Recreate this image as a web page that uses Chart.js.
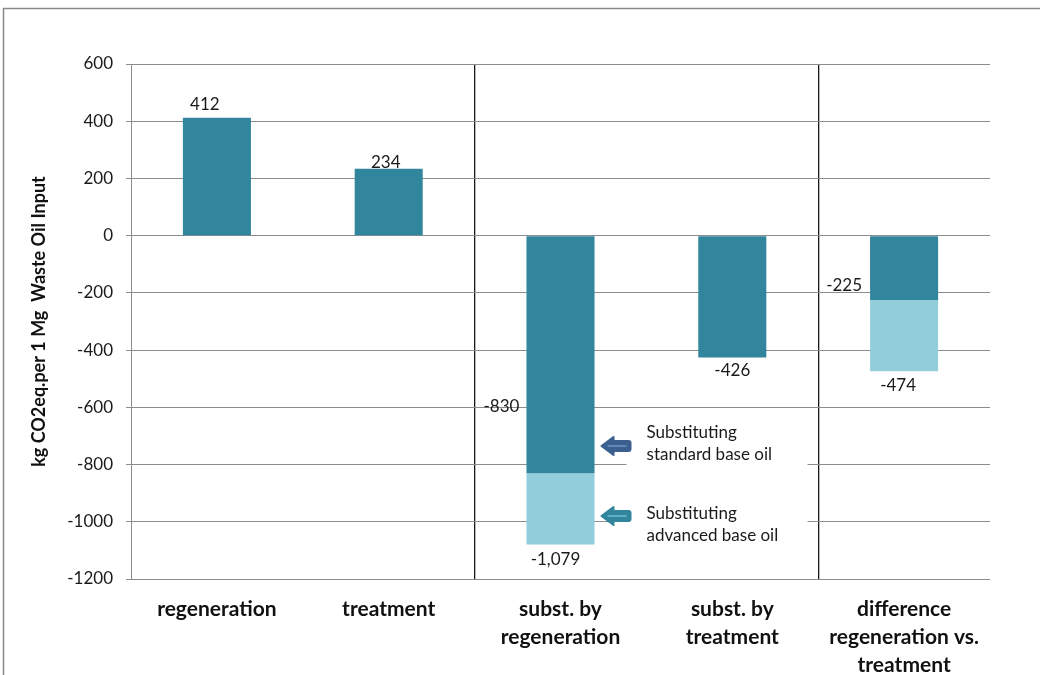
<!DOCTYPE html>
<html>
<head>
<meta charset="utf-8">
<script src="https://cdn.jsdelivr.net/npm/chart.js@4.4.1/dist/chart.umd.min.js"></script>
<style>
  html, body { margin: 0; padding: 0; background: #ffffff; }
  #wrap { width: 1040px; height: 675px; position: relative; }
</style>
</head>
<body>
<div id="wrap"><canvas id="c" width="1040" height="675"></canvas></div>
<script>
// ---------- data ----------
const categories = [
  'regeneration',
  'treatment',
  ['subst. by', 'regeneration'],
  ['subst. by', 'treatment'],
  ['difference', 'regeneration vs.', 'treatment']
];
const standardBaseOil = [412, 234, -830, -426, -225];
const advancedBaseOilTotal = [null, null, -1079, null, -474];
const yTicks = [600, 400, 200, 0, -200, -400, -600, -800, -1000, -1200];
const yTitle = 'kg CO2eq.per 1 Mg  Waste Oil Input';
const annotationTexts = [
  ['Substituting', 'standard base oil'],
  ['Substituting', 'advanced base oil']
];
const annotationLevels = [-735, -980];

// extra (light) segment = total minus standard part
const advancedExtra = advancedBaseOilTotal.map((t, i) => t === null ? 0 : t - standardBaseOil[i]);

const DARK = '#31859C';
const LIGHT = '#92CDDC';
const GRID = '#8C8C8C';
const FONT = 'Lato, "Open Sans", sans-serif';

// ---------- plugins ----------
const framePlugin = {
  id: 'frame',
  beforeDraw(chart) {
    const ctx = chart.ctx;
    ctx.save();
    ctx.fillStyle = '#fff';
    ctx.fillRect(0, 0, chart.width, chart.height);
    ctx.strokeStyle = '#8A8A8A';
    ctx.lineWidth = 1.5;
    ctx.strokeRect(3.5, 8.5, chart.width + 50, chart.height + 50);
    ctx.restore();
  }
};

const valueLabelPlugin = {
  id: 'valueLabels',
  afterDatasetsDraw(chart, args, opts) {
    const ctx = chart.ctx;
    const y = chart.scales.y;
    ctx.save();
    ctx.font = opts.font;
    ctx.fillStyle = '#1a1a1a';
    ctx.textAlign = 'center';
    ctx.textBaseline = 'middle';
    opts.items.forEach(it => {
      const meta = chart.getDatasetMeta(it.ds);
      const el = meta.data[it.index];
      const value = it.ds === 0 ? standardBaseOil[it.index] : advancedBaseOilTotal[it.index];
      const px = el.x + it.dx;
      const py = y.getPixelForValue(value) + it.dy;
      ctx.fillText(value.toLocaleString('en-US'), px, py);
    });
    ctx.restore();
  }
};

function drawLeftArrow(ctx, x, cy, fill, inner) {
  // block arrow pointing left, x = tip
  const headW = 12, totalW = 29, headH = 18, tailH = 10, r = 2;
  ctx.save();
  ctx.fillStyle = fill;
  ctx.strokeStyle = fill;
  ctx.lineJoin = 'round';
  ctx.lineWidth = 2;
  ctx.beginPath();
  ctx.moveTo(x, cy);
  ctx.lineTo(x + headW, cy - headH / 2);
  ctx.lineTo(x + headW, cy - tailH / 2);
  ctx.lineTo(x + totalW - r, cy - tailH / 2);
  ctx.quadraticCurveTo(x + totalW, cy - tailH / 2, x + totalW, cy - tailH / 2 + r);
  ctx.lineTo(x + totalW, cy + tailH / 2 - r);
  ctx.quadraticCurveTo(x + totalW, cy + tailH / 2, x + totalW - r, cy + tailH / 2);
  ctx.lineTo(x + headW, cy + tailH / 2);
  ctx.lineTo(x + headW, cy + headH / 2);
  ctx.closePath();
  ctx.fill();
  ctx.stroke();
  ctx.strokeStyle = inner;
  ctx.lineWidth = 1.5;
  ctx.beginPath();
  ctx.moveTo(x + 6, cy);
  ctx.lineTo(x + totalW - 4, cy);
  ctx.stroke();
  ctx.restore();
}

const annotationPlugin = {
  id: 'annot',
  afterDatasetsDraw(chart, args, opts) {
    const ctx = chart.ctx;
    const y = chart.scales.y;
    const meta = chart.getDatasetMeta(0);
    const bar = meta.data[2];
    const barRight = bar.x + bar.width / 2;
    ctx.save();
    opts.items.forEach((it, i) => {
      const cy = y.getPixelForValue(annotationLevels[i]);
      const textTop = cy + it.textShift;
      // white text box
      ctx.fillStyle = '#fff';
      ctx.fillRect(barRight + 32, textTop - 14, 181, 50);
      drawLeftArrow(ctx, barRight + 7, cy, it.fill, it.inner);
      ctx.fillStyle = '#1a1a1a';
      ctx.font = opts.font;
      ctx.textAlign = 'left';
      ctx.textBaseline = 'middle';
      const lines = annotationTexts[i];
      lines.forEach((ln, k) => {
        ctx.fillText(ln, barRight + 52, textTop + k * 22);
      });
    });
    ctx.restore();
  }
};

// ---------- chart ----------
const ctx = document.getElementById('c').getContext('2d');
new Chart(ctx, {
  type: 'bar',
  data: {
    labels: categories,
    datasets: [
      { label: 'standard', data: standardBaseOil, backgroundColor: DARK, borderWidth: 0,
        barPercentage: 0.396, categoryPercentage: 1.0 },
      { label: 'advanced', data: advancedExtra, backgroundColor: LIGHT, borderWidth: 0,
        barPercentage: 0.396, categoryPercentage: 1.0 }
    ]
  },
  options: {
    responsive: false,
    animation: false,
    layout: { padding: { top: 64, right: 50, left: 0, bottom: 0 } },
    plugins: {
      legend: { display: false },
      tooltip: { enabled: false },
      valueLabels: {
        font: '17px ' + FONT,
        items: [
          { ds: 0, index: 0, dx: -12, dy: -13 },
          { ds: 0, index: 1, dx: -3, dy: -6 },
          { ds: 0, index: 2, dx: -59, dy: -67 },
          { ds: 0, index: 3, dx: 0, dy: 13 },
          { ds: 0, index: 4, dx: -60, dy: -15 },
          { ds: 1, index: 2, dx: -5, dy: 15 },
          { ds: 1, index: 4, dx: -6, dy: 14 }
        ]
      },
      annot: {
        font: '17px ' + FONT,
        items: [
          { fill: '#3B5F8E', inner: '#6E98C9', textShift: -13 },
          { fill: '#31859C', inner: '#6CC0D6', textShift: -3 }
        ]
      }
    },
    scales: {
      x: {
        stacked: true,
        offset: true,
        border: { display: false },
        grid: {
          offset: true,
          drawTicks: false,
          color: (c) => (c.index === 2 || c.index === 4) ? '#1a1a1a' : 'rgba(0,0,0,0)',
          lineWidth: 1.3
        },
        ticks: {
          color: '#111',
          font: { family: FONT, size: 21, weight: 'bold', lineHeight: '28px' },
          padding: 16,
          maxRotation: 0,
          autoSkip: false
        },
        afterFit: (s) => { s.height = 96; }
      },
      y: {
        stacked: true,
        min: -1200,
        max: 600,
        afterBuildTicks: (s) => { s.ticks = yTicks.map(v => ({ value: v })); },
        border: { color: GRID, width: 1 },
        grid: { color: GRID, lineWidth: 1, tickLength: 5, drawTicks: true },
        ticks: {
          color: '#1a1a1a',
          font: { family: FONT, size: 17 },
          padding: 13,
          callback: (v) => String(v)
        },
        title: {
          display: true,
          text: yTitle,
          color: '#111',
          font: { family: FONT, size: 18, weight: 'bold' },
          padding: { top: 28, bottom: 0 }
        },
        afterFit: (s) => { s.width = 131; }
      }
    }
  },
  plugins: [framePlugin, valueLabelPlugin, annotationPlugin]
});
</script>
</body>
</html>
